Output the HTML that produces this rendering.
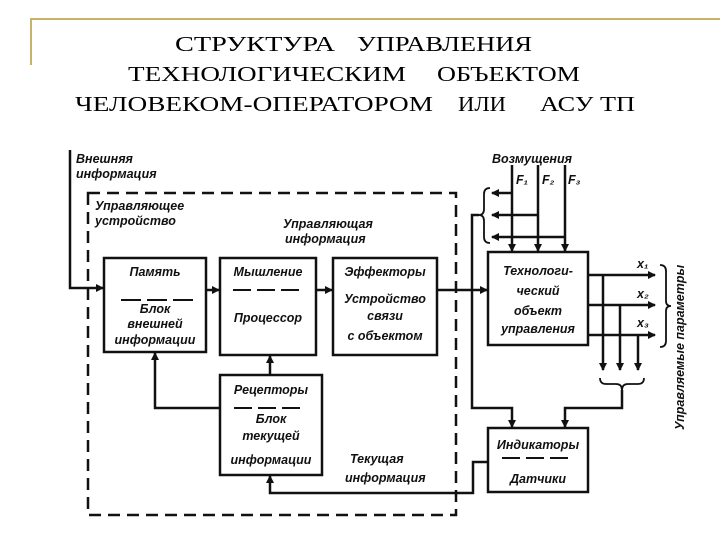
<!DOCTYPE html>
<html><head><meta charset="utf-8"><style>
body{margin:0;background:#fff;width:720px;height:540px;overflow:hidden}
svg{display:block}
.t{font-family:"Liberation Serif",serif;font-size:21px;fill:#000}
.l{font-family:"Liberation Sans",sans-serif;font-size:12.5px;font-style:italic;font-weight:bold;fill:#111}
</style></head><body>
<svg width="720" height="540" viewBox="0 0 720 540">
<defs><marker id="a" markerWidth="8" markerHeight="8" refX="7" refY="4" orient="auto" markerUnits="userSpaceOnUse"><path d="M0,0L8,4L0,8z" fill="#111"/></marker></defs>
<path d="M31,65V19H720" stroke="#c9b26a" stroke-width="2" fill="none"/>
<g class="t">
<text x="175" y="51" textLength="160" lengthAdjust="spacingAndGlyphs">СТРУКТУРА</text>
<text x="357" y="51" textLength="175" lengthAdjust="spacingAndGlyphs">УПРАВЛЕНИЯ</text>
<text x="128" y="81" textLength="278" lengthAdjust="spacingAndGlyphs">ТЕХНОЛОГИЧЕСКИМ</text>
<text x="437" y="81" textLength="143" lengthAdjust="spacingAndGlyphs">ОБЪЕКТОМ</text>
<text x="75" y="111" textLength="358" lengthAdjust="spacingAndGlyphs">ЧЕЛОВЕКОМ-ОПЕРАТОРОМ</text>
<text x="458" y="111" textLength="48" lengthAdjust="spacingAndGlyphs">ИЛИ</text>
<text x="540" y="111" textLength="95" lengthAdjust="spacingAndGlyphs">АСУ ТП</text>
</g>
<g stroke="#111" fill="none" stroke-width="2.5">
<rect x="88" y="193" width="368" height="322" stroke-dasharray="12,7"/>
<rect x="104" y="258" width="102" height="94"/>
<rect x="220" y="258" width="96" height="97"/>
<rect x="333" y="258" width="104" height="97"/>
<rect x="220" y="375" width="102" height="100"/>
<rect x="488" y="252" width="100" height="93"/>
<rect x="488" y="428" width="100" height="64"/>
<path d="M70,150V288H103" marker-end="url(#a)"/>
<path d="M206,290H219" marker-end="url(#a)"/>
<path d="M316,290H332" marker-end="url(#a)"/>
<path d="M437,290H487" marker-end="url(#a)"/>
<path d="M270,375V356" marker-end="url(#a)"/>
<path d="M220,408H155V353" marker-end="url(#a)"/>
<path d="M488,462H473V493H270V476" marker-end="url(#a)"/>
<path d="M512,165V251" marker-end="url(#a)"/>
<path d="M538,165V251" marker-end="url(#a)"/>
<path d="M565,165V251" marker-end="url(#a)"/>
<path d="M512,193H492" marker-end="url(#a)"/>
<path d="M538,215H492" marker-end="url(#a)"/>
<path d="M565,237H492" marker-end="url(#a)"/>
<path d="M490,188q-6,0-6,6v15q0,6-5,6q5,0,5,6v16q0,6,6,6" stroke-width="1.8"/>
<path d="M479,215H472V408H512V427" marker-end="url(#a)"/>
<path d="M588,275H655" marker-end="url(#a)"/>
<path d="M588,305H655" marker-end="url(#a)"/>
<path d="M588,335H655" marker-end="url(#a)"/>
<path d="M603,275V370" marker-end="url(#a)"/>
<path d="M620,305V370" marker-end="url(#a)"/>
<path d="M638,335V370" marker-end="url(#a)"/>
<path d="M600,378q0,6,6,6h10q6,0,6,6q0-6,6-6h10q6,0,6-6" stroke-width="1.8"/>
<path d="M622,390V408H565V427" marker-end="url(#a)"/>
<path d="M660,265q6,0,6,6v30q0,5,5,5q-5,0-5,5v30q0,6-6,6" stroke-width="1.8"/>
<path d="M121,300h20m6,0h20m6,0h20M233,290h18m6,0h18m6,0h18M234,408h18m6,0h18m6,0h18M502,458h18m6,0h18m6,0h18" stroke-width="2"/>
</g>
<g class="l">
<text x="76" y="163">Внешняя</text><text x="76" y="178">информация</text>
<text x="95" y="210">Управляющее</text><text x="95" y="225">устройство</text>
<text x="283" y="228">Управляющая</text><text x="285" y="243">информация</text>
<text x="155" y="276" text-anchor="middle">Память</text>
<text x="155" y="313" text-anchor="middle">Блок</text>
<text x="155" y="328" text-anchor="middle">внешней</text>
<text x="155" y="344" text-anchor="middle">информации</text>
<text x="268" y="276" text-anchor="middle">Мышление</text>
<text x="268" y="322" text-anchor="middle">Процессор</text>
<text x="385" y="276" text-anchor="middle">Эффекторы</text>
<text x="385" y="303" text-anchor="middle">Устройство</text>
<text x="385" y="320" text-anchor="middle">связи</text>
<text x="385" y="340" text-anchor="middle">с объектом</text>
<text x="271" y="394" text-anchor="middle">Рецепторы</text>
<text x="271" y="423" text-anchor="middle">Блок</text>
<text x="271" y="440" text-anchor="middle">текущей</text>
<text x="271" y="464" text-anchor="middle">информации</text>
<text x="350" y="463">Текущая</text><text x="345" y="482">информация</text>
<text x="538" y="275" text-anchor="middle">Технологи-</text>
<text x="538" y="295" text-anchor="middle">ческий</text>
<text x="538" y="315" text-anchor="middle">объект</text>
<text x="538" y="333" text-anchor="middle">управления</text>
<text x="538" y="449" text-anchor="middle">Индикаторы</text>
<text x="538" y="483" text-anchor="middle">Датчики</text>
<text x="492" y="163">Возмущения</text>
<text x="516" y="184">F₁</text><text x="542" y="184">F₂</text><text x="568" y="184">F₃</text>
<text x="637" y="268">x₁</text><text x="637" y="298">x₂</text><text x="637" y="327">x₃</text>
<text transform="translate(684,430) rotate(-90)">Управляемые параметры</text>
</g>
</svg>
</body></html>
